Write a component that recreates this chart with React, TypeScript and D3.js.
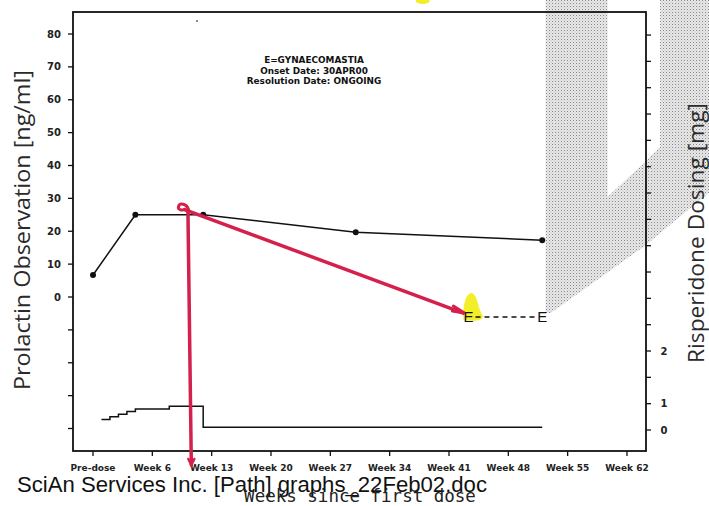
import React from "react";
import * as d3 from "d3";

// ---------- data ----------
const xTickWeeks = [-1, 6, 13, 20, 27, 34, 41, 48, 55, 62];
const xTickLabels = ["Pre-dose", "Week 6", "Week 13", "Week 20", "Week 27", "Week 34", "Week 41", "Week 48", "Week 55", "Week 62"];

const prolactinWeeks = [-1, 4, 12, 30, 52];
const prolactinValues = [6.7, 25, 25, 19.7, 17.3];

const eventWeeks = [43.3, 52];
const eventLevel = -6.1;
const eventLabel = "E";

const doseWeeks = [0, 1, 2, 3, 4, 8, 12, 52];
const doseValues = [0.4, 0.5, 0.6, 0.7, 0.8, 0.9, 0.1, 0.1];

const leftTicks = [-40, -30, -20, -10, 0, 10, 20, 30, 40, 50, 60, 70, 80];
const rightTicks = d3.range(0, 16);
const rightTickLabels: Record<number, string> = { 0: "0", 1: "1", 3: "2" };

const annotationLines = ["E=GYNAECOMASTIA", "Onset Date: 30APR00", "Resolution Date: ONGOING"];

const leftTitle = "Prolactin Observation [ng/ml]";
const rightTitle = "Risperidone Dosing [mg]";
const xTitle = "Weeks since first dose";
const footer = "SciAn Services Inc. [Path] graphs_22Feb02.doc";

// scan artefacts, in [week, prolactin] units
const shadePoly: [number, number][] = [
  [52.4, 95], [59.7, 95], [59.7, 30.4], [64.24, 41.4], [65.9, 45.6], [65.9, 95], [72, 95],
  [72, 32.5], [64.24, 15.8], [53.0, -4.9], [52.4, -4.9],
];
const redDiag: [number, number][] = [[9.8, 26.6], [42.7, -4.9]];
const redVert: [number, number][] = [[10.2, 26.3], [10.6, -51.1]];

export default function App() {
  const W = 709, H = 506;
  const L = 73, R = 646, T = 12, B = 451;

  const x = d3.scaleLinear().domain([-1 - 20 / 8.476, -1 + 553 / 8.476]).range([L, R]);
  const y = d3.scaleLinear().domain([(297 - B) / 3.2875, (297 - T) / 3.2875]).range([B, T]);
  const yd = d3.scaleLinear().domain([-(B - 430) / 26.33, (430 - T) / 26.33]).range([B, T]);

  const prolLine = d3.line<number>().x((_, i) => x(prolactinWeeks[i])).y((v) => y(v))(prolactinValues) || "";
  const doseLine = d3.line<number>().x((_, i) => x(doseWeeks[i])).y((v) => yd(v)).curve(d3.curveStepAfter)(doseValues) || "";
  const shadePath = d3.line<[number, number]>().x((d) => x(d[0])).y((d) => y(d[1]))(shadePoly) + "Z";

  const red = "#d3214c";
  const tickFont = "DejaVu Sans";

  const curlX = x(redDiag[0][0]);
  const curlY = y(redDiag[0][1]);
  const ex = x(eventWeeks[0]);
  const ey = y(eventLevel);

  return (
    <svg width={W} height={H} style={{ position: "absolute", left: 0, top: 0, background: "#fff" }} xmlns="http://www.w3.org/2000/svg">
      <defs>
        <pattern id="halftone" width="3" height="3" patternUnits="userSpaceOnUse">
          <rect x="0" y="0" width="3" height="3" fill="#e9e9e9" />
          <rect x="0" y="0" width="1" height="1" fill="#858585" />
          <rect x="1.5" y="1.5" width="1" height="1" fill="#b8b8b8" />
        </pattern>
      </defs>
      <rect width={W} height={H} fill="#fff" />

      {/* halftone scan shading */}
      <path d={shadePath} fill="url(#halftone)" />

      {/* frame */}
      <rect x={L} y={T} width={R - L} height={B - T} fill="none" stroke="#111" strokeWidth={1.8} />

      {/* left axis ticks */}
      {leftTicks.map((t) => (
        <g key={"l" + t}>
          <line x1={L - 5} x2={L} y1={y(t)} y2={y(t)} stroke="#111" strokeWidth={1.3} />
          {t >= 0 && (
            <text x={L - 12} y={y(t)} dy="0.36em" textAnchor="end" fontFamily={tickFont} fontWeight="bold" fontSize={10} fill="#222">
              {t}
            </text>
          )}
        </g>
      ))}

      {/* right axis ticks */}
      {rightTicks.map((t) => (
        <g key={"r" + t}>
          <line x1={R} x2={R + 5} y1={yd(t)} y2={yd(t)} stroke="#111" strokeWidth={1.3} />
          {rightTickLabels[t] !== undefined && (
            <text x={R + 18} y={yd(t)} dy="0.36em" textAnchor="middle" fontFamily={tickFont} fontWeight="bold" fontSize={10} fill="#222">
              {rightTickLabels[t]}
            </text>
          )}
        </g>
      ))}

      {/* bottom axis ticks */}
      {xTickWeeks.map((w, i) => (
        <g key={"x" + w}>
          <line x1={x(w)} x2={x(w)} y1={B} y2={B + 5} stroke="#111" strokeWidth={1.3} />
          <text x={x(w)} y={468} dy="0.36em" textAnchor="middle" fontFamily={tickFont} fontWeight="bold" fontSize={9} fill="#222">
            {xTickLabels[i]}
          </text>
        </g>
      ))}

      {/* annotation box text */}
      {annotationLines.map((s, i) => (
        <text key={s} x={314} y={60 + i * 10.5} dy="0.36em" textAnchor="middle" fontFamily={tickFont} fontWeight="bold" fontSize={8.9} fill="#111">
          {s}
        </text>
      ))}

      {/* dosing step line */}
      <path d={doseLine} fill="none" stroke="#111" strokeWidth={1.5} />

      {/* prolactin line */}
      <path d={prolLine} fill="none" stroke="#111" strokeWidth={1.5} />
      {prolactinValues.map((v, i) => (
        <circle key={"p" + i} cx={x(prolactinWeeks[i])} cy={y(v)} r={3} fill="#111" />
      ))}

      {/* yellow highlighter */}
      <path
        d={`M${ex - 5},${ey + 3} C${ex - 6},${ey - 10} ${ex - 3},${ey - 24} ${ex + 3},${ey - 24} C${ex + 9},${ey - 23} ${ex + 9},${ey - 10} ${ex + 14},${ey - 2} C${ex + 16},${ey + 3} ${ex + 8},${ey + 5} ${ex - 5},${ey + 3}Z`}
        fill="#f2ee2a"
      />
      <ellipse cx={x(37.9)} cy={1} rx={7} ry={3} fill="#f2ee2a" />

      {/* event markers */}
      <line x1={ex + 7} x2={x(eventWeeks[1]) - 7} y1={ey} y2={ey} stroke="#111" strokeWidth={1.5} strokeDasharray="5,4" />
      {eventWeeks.map((w) => (
        <text key={"e" + w} x={x(w)} y={ey} dy="0.36em" textAnchor="middle" fontFamily="Liberation Sans" fontSize={15} fill="#111">
          {eventLabel}
        </text>
      ))}

      {/* red handwritten annotations */}
      <line x1={x(redDiag[0][0])} y1={y(redDiag[0][1])} x2={x(redDiag[1][0])} y2={y(redDiag[1][1])} stroke={red} strokeWidth={3.5} strokeLinecap="round" />
      <path
        d={`M${x(redDiag[1][0]) - 10},${y(redDiag[1][1]) - 7} L${x(redDiag[1][0]) + 1},${y(redDiag[1][1])} L${x(redDiag[1][0]) - 11},${y(redDiag[1][1]) - 2}`}
        fill="none" stroke={red} strokeWidth={3} strokeLinecap="round"
      />
      <line x1={x(redVert[0][0])} y1={y(redVert[0][1])} x2={x(redVert[1][0])} y2={y(redVert[1][1])} stroke={red} strokeWidth={3.5} strokeLinecap="round" />
      <path
        d={`M${x(redVert[1][0]) - 3},${y(redVert[1][1]) - 6} L${x(redVert[1][0])},${y(redVert[1][1])} L${x(redVert[1][0]) + 3},${y(redVert[1][1]) - 6}`}
        fill="none" stroke={red} strokeWidth={2.5} strokeLinecap="round"
      />
      <path
        d={`M${curlX + 4},${curlY} C${curlX + 2},${curlY - 6} ${curlX - 5},${curlY - 7} ${curlX - 6},${curlY - 3} C${curlX - 7},${curlY} ${curlX - 3},${curlY + 1} ${curlX},${curlY}`}
        fill="none" stroke={red} strokeWidth={3} strokeLinecap="round"
      />

      {/* specks */}
      <circle cx={197} cy={21} r={0.9} fill="#555" />

      {/* axis titles */}
      <text transform={`translate(30,230) rotate(-90)`} textAnchor="middle" fontFamily="Open Sans" fontSize={21} fill="#2a2a2a"
        textLength={320} lengthAdjust="spacingAndGlyphs">
        {leftTitle}
      </text>
      <text transform={`translate(704,233) rotate(-90)`} textAnchor="middle" fontFamily="Open Sans" fontSize={21} fill="#2a2a2a"
        textLength={260} lengthAdjust="spacingAndGlyphs">
        {rightTitle}
      </text>

      {/* footer and x title */}
      <text x={17} y={492} fontFamily="Liberation Sans" fontSize={21.5} fill="#111" textLength={470} lengthAdjust="spacingAndGlyphs">
        {footer}
      </text>
      <text x={360} y={502} textAnchor="middle" fontFamily="DejaVu Sans Mono" fontSize={17.5} fill="#222">
        {xTitle}
      </text>
    </svg>
  );
}
